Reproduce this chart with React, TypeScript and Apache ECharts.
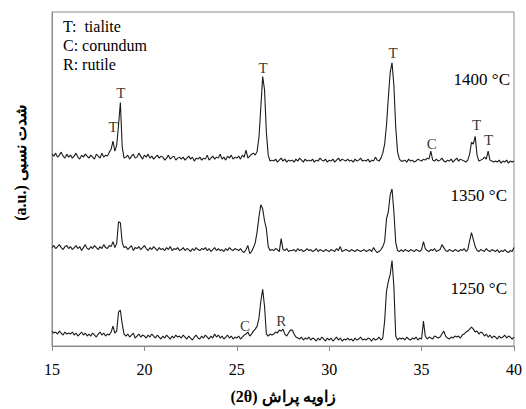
import React, { useEffect, useRef } from "react";
import * as echarts from "echarts";

// 2θ sampling: 15.0 → 40.0 in 0.1° steps (251 points)
const thetaStart = 15;
const thetaStep = 0.1;

// Relative intensity (a.u.), stacked traces
const int1400 = [
  193,191,194,190,192,195,191,189,193,190,
  192,189,191,194,190,188,192,190,193,191,
  189,192,190,188,193,191,189,194,190,192,
  191,195,198,206,196,202,222,245,200,189,
  190,192,188,191,193,189,190,194,191,188,
  192,190,193,189,191,188,190,192,189,191,
  190,187,189,192,188,190,191,187,189,190,
  188,190,187,189,191,188,190,186,189,188,
  190,187,189,188,192,187,189,191,188,190,
  189,193,188,190,187,191,189,192,188,190,
  189,191,188,192,190,197,189,191,193,194,
  192,196,210,240,271,258,215,192,186,187,
  186,188,185,187,189,186,188,185,187,186,
  187,185,188,186,189,187,185,188,186,187,
  186,188,185,187,186,189,187,186,188,185,
  187,186,188,185,187,189,186,188,187,186,
  188,186,187,185,188,186,187,189,186,187,
  186,188,185,187,186,190,187,186,189,194,
  203,222,250,275,285,262,220,195,188,186,
  186,187,185,188,186,187,185,186,188,187,
  186,188,187,189,188,196,187,186,188,186,
  187,189,186,185,187,186,188,185,187,189,
  186,188,187,186,185,187,193,205,203,211,
  192,186,187,188,190,188,196,187,186,185,
  186,185,187,184,186,185,187,184,186,185,
  186,
];

const int1350 = [
  99,101,98,100,102,99,97,100,101,98,
  100,97,99,101,98,100,96,99,102,98,
  97,100,98,101,99,97,100,98,102,99,
  98,101,100,105,99,103,125,124,104,99,
  100,97,99,101,96,99,98,100,97,99,
  101,98,96,99,97,100,98,96,99,97,
  98,96,99,97,100,96,98,97,99,96,
  97,99,96,98,97,95,98,96,99,97,
  96,98,97,99,96,98,95,97,99,96,
  98,96,97,95,98,96,99,97,96,98,
  97,96,98,95,94,97,101,93,95,99,
  104,115,130,142,138,126,118,100,96,97,
  96,98,97,95,108,97,96,98,95,96,
  96,97,95,98,96,97,95,96,98,96,
  97,95,96,98,95,97,96,95,97,96,
  95,97,96,95,98,96,100,95,96,97,
  96,95,97,96,95,97,96,95,96,97,
  95,96,97,95,99,96,94,95,97,100,
  105,128,135,152,158,135,104,96,95,97,
  95,97,96,95,97,96,95,97,96,95,
  97,105,98,96,95,97,96,98,95,96,
  97,102,99,96,95,97,96,95,97,96,
  95,97,96,98,95,97,106,114,107,100,
  96,95,97,96,95,98,96,95,97,96,
  95,97,94,96,95,97,95,94,96,95,
  99,
];

const int1250 = [
  15,13,14,12,15,13,11,14,12,13,
  12,14,11,13,10,12,14,11,13,10,
  12,10,13,11,9,12,14,11,13,10,
  12,11,14,20,13,15,34,36,22,12,
  10,12,9,11,13,8,10,12,9,11,
  10,8,11,9,12,10,8,11,9,7,
  10,8,11,9,7,10,8,11,9,10,
  8,11,9,7,10,8,6,9,11,8,
  7,10,8,11,9,7,10,8,12,9,
  11,8,10,7,9,11,8,10,7,9,
  8,10,7,9,11,12,14,10,12,15,
  17,20,28,45,57,40,12,10,12,11,
  12,14,13,16,15,17,12,10,13,16,
  16,12,9,8,7,9,6,8,7,9,
  6,8,7,5,8,6,9,7,5,8,
  6,8,5,7,9,6,8,5,7,6,
  8,6,7,5,8,6,7,9,6,7,
  6,8,7,5,8,6,7,9,6,8,
  25,55,65,72,86,60,10,6,8,7,
  8,6,9,7,6,8,7,9,6,8,
  7,25,10,7,9,8,7,10,9,8,
  9,12,15,10,8,7,9,8,10,9,
  10,8,11,12,14,15,17,19,17,14,
  15,12,14,13,10,12,9,11,8,10,
  9,7,10,8,9,11,8,10,9,7,
  9,
];

// Phase markers: letter, 2θ, height (a.u.)
const peakLetters = ["T", "T", "T", "T", "C", "T", "T", "C", "R"];
const peakTheta = [18.3, 18.73, 26.42, 33.45, 35.55, 37.98, 38.62, 25.45, 27.4];
const peakHeight = [220, 255, 280, 295, 203, 222, 207, 20, 25];

const legendLines = ["T:  tialite", "C: corundum", "R: rutile"];
const tempLabels = ["1400 °C", "1350 °C", "1250 °C"];
const xTicks = [15, 20, 25, 30, 35, 40];
// Titles written so that left-to-right layout shows them as in the RTL original
const xTitle = "(2θ) زاویه پراش";
const yTitle = "(a.u.) شدت نسبی";

const toPairs = (ys: number[]) =>
  ys.map((y, i) => [Math.round((thetaStart + i * thetaStep) * 100) / 100, y]);

const SERIF = "'Liberation Serif', 'Times New Roman', serif";

export default function App() {
  const ref = useRef<HTMLDivElement>(null);
  useEffect(() => {
    if (!ref.current) return;
    const chart = echarts.init(ref.current, null, { renderer: "svg" });
    const lineStyle = { color: "#1a1a1a", width: 1.1 };
    const mkLine = (name: string, ys: number[]) => ({
      name,
      type: "line" as const,
      data: toPairs(ys),
      showSymbol: false,
      symbol: "none",
      lineStyle,
      silent: true,
    });
    chart.setOption({
      animation: false,
      backgroundColor: "#ffffff",
      textStyle: { fontFamily: SERIF },
      grid: {
        left: 52,
        right: 12,
        top: 12,
        bottom: 61,
        show: true,
        borderColor: "#8c8c8c",
        borderWidth: 1,
        backgroundColor: "transparent",
      },
      xAxis: {
        type: "value",
        min: xTicks[0],
        max: xTicks[xTicks.length - 1],
        interval: 5,
        name: xTitle,
        nameLocation: "middle",
        nameGap: 42,
        nameTextStyle: { fontFamily: SERIF, fontSize: 16, fontWeight: "bold", color: "#000" },
        axisLine: { show: true, lineStyle: { color: "#8c8c8c", width: 1 } },
        axisTick: { show: true, inside: false, length: 5, lineStyle: { color: "#8c8c8c" } },
        axisLabel: { fontFamily: SERIF, fontSize: 16, color: "#000", margin: 15 },
        splitLine: { show: false },
      },
      yAxis: {
        type: "value",
        min: 0,
        max: 336,
        axisLine: { show: true, lineStyle: { color: "#8c8c8c" } },
        axisTick: { show: false },
        axisLabel: { show: false },
        splitLine: { show: false },
      },
      series: [
        mkLine("1400 °C", int1400),
        mkLine("1350 °C", int1350),
        mkLine("1250 °C", int1250),
        {
          type: "scatter",
          symbolSize: 0,
          silent: true,
          data: peakLetters.map((l, i) => ({ name: l, value: [peakTheta[i], peakHeight[i]] })),
          label: {
            show: true,
            position: "inside",
            formatter: (p: any) => p.name,
            fontFamily: SERIF,
            fontSize: 15,
            color: "#000",
          },
        },
      ],
      graphic: [
        ...legendLines.map((t, i) => ({
          type: "text",
          left: 63,
          top: 18 + i * 19,
          style: { text: t, font: `16px ${SERIF}`, fill: "#000" },
        })),
        ...tempLabels.map((t, i) => ({
          type: "text",
          x: [510, 507, 507][i],
          y: [79, 195, 288][i],
          style: { text: t, font: `17px ${SERIF}`, fill: "#000", textAlign: "right", textVerticalAlign: "middle" },
        })),
        {
          type: "text",
          x: 20,
          y: 163,
          rotation: Math.PI / 2,
          style: {
            text: yTitle,
            font: `bold 16px ${SERIF}`,
            fill: "#000",
            textAlign: "center",
            textVerticalAlign: "middle",
          },
        },
      ],
    });
    return () => chart.dispose();
  }, []);
  return <div ref={ref} style={{ width: 526, height: 409, position: "absolute", left: 0, top: 0 }} />;
}
